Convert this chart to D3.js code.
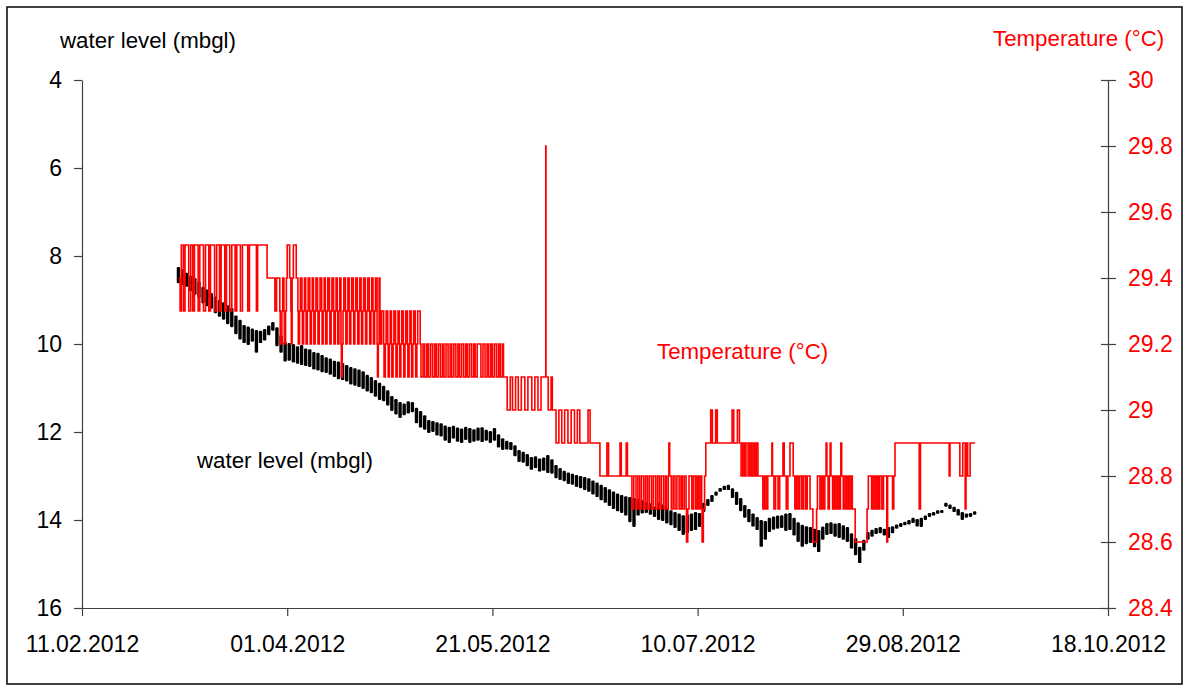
<!DOCTYPE html>
<html><head><meta charset="utf-8">
<script src="https://cdn.jsdelivr.net/npm/d3@7"></script>
<style>
body{margin:0;background:#fff}
svg{display:block}
text{font-family:"Liberation Sans",Arial,sans-serif}
</style>
</head><body>
<svg id="c" width="1186" height="686"></svg>
<script>
// ---------- data ----------
const dateTicks = ["11.02.2012","01.04.2012","21.05.2012","10.07.2012","29.08.2012","18.10.2012"];
const levelTicks = [4,6,8,10,12,14,16];
const tempTicks = [28.4,28.6,28.8,29,29.2,29.4,29.6,29.8,30];

// water level (mbgl): daily shallowest / deepest reading, starting 05.03.2012
const wlStart = "05.03.2012";
const wlTop = [
 8.25,8.30,8.38,8.45,8.50,8.58,8.70,8.76,8.84,8.92,
 9.00,9.05,9.12,9.18,9.35,9.45,9.57,9.60,9.65,9.68,
 9.70,9.66,9.58,9.50,9.62,9.80,9.95,9.98,10.00,10.05,
 10.02,10.10,10.12,10.18,10.20,10.25,10.30,10.33,10.38,10.40,
 10.43,10.48,10.52,10.55,10.58,10.62,10.70,10.75,10.82,10.88,
 10.95,11.05,11.18,11.25,11.32,11.35,11.30,11.32,11.45,11.52,
 11.62,11.73,11.75,11.78,11.80,11.85,11.88,11.86,11.90,11.92,
 11.88,11.91,11.94,11.90,11.89,11.95,11.98,11.91,12.05,12.14,
 12.20,12.23,12.30,12.41,12.45,12.50,12.57,12.55,12.60,12.58,
 12.52,12.62,12.75,12.82,12.88,12.92,12.95,12.98,13.00,13.02,
 13.05,13.10,13.15,13.20,13.25,13.30,13.35,13.40,13.43,13.46,
 13.48,13.50,13.52,13.55,13.59,13.62,13.70,13.61,13.65,13.72,
 13.78,13.82,13.85,13.89,13.88,13.85,13.82,13.84,13.61,13.52,
 13.43,13.35,13.27,13.22,13.20,13.28,13.36,13.50,13.66,13.75,
 13.85,13.93,14.00,14.02,13.95,13.92,13.90,13.89,13.85,13.84,
 13.95,14.05,14.11,14.14,14.16,14.20,14.23,14.15,14.07,14.05,
 14.08,14.07,14.12,14.16,14.30,14.41,14.61,14.45,14.27,14.22,
 14.18,14.16,14.20,14.16,14.14,14.10,14.07,14.04,14.00,13.95,
 13.98,13.95,13.90,13.84,13.82,13.78,13.77,13.61,13.65,13.70,
 13.75,13.82,13.85,13.84,13.80];
const wlBottom = [
 8.62,8.66,8.70,8.80,8.88,8.95,9.08,9.14,9.20,9.30,
 9.38,9.45,9.55,9.62,9.78,9.90,9.98,10.02,9.95,10.20,
 9.98,9.92,9.80,9.70,10.05,10.20,10.40,10.38,10.42,10.45,
 10.48,10.50,10.52,10.58,10.60,10.64,10.66,10.70,10.75,10.80,
 10.82,10.85,10.92,10.95,10.98,11.02,11.08,11.12,11.20,11.27,
 11.30,11.40,11.52,11.60,11.68,11.62,11.58,11.55,11.80,11.90,
 11.95,12.02,12.00,12.08,12.10,12.20,12.25,12.15,12.22,12.25,
 12.18,12.25,12.22,12.20,12.23,12.20,12.25,12.20,12.35,12.41,
 12.40,12.41,12.55,12.68,12.70,12.78,12.86,12.82,12.90,12.88,
 12.93,12.95,13.05,13.09,13.12,13.18,13.20,13.25,13.28,13.32,
 13.36,13.42,13.48,13.55,13.61,13.68,13.75,13.80,13.84,13.90,
 14.05,14.16,13.90,13.85,13.84,13.88,13.93,14.00,14.02,14.08,
 14.12,14.18,14.25,14.34,14.30,14.25,14.23,14.16,13.82,13.68,
 13.59,13.45,13.36,13.32,13.32,13.50,13.66,13.80,13.95,14.05,
 14.15,14.23,14.61,14.45,14.27,14.22,14.20,14.18,14.25,14.23,
 14.35,14.50,14.61,14.55,14.52,14.62,14.73,14.45,14.34,14.32,
 14.38,14.41,14.45,14.50,14.65,14.80,14.98,14.70,14.45,14.38,
 14.32,14.30,14.35,14.41,14.30,14.20,14.16,14.12,14.10,14.07,
 14.15,14.16,14.00,13.93,13.90,13.86,13.84,13.70,13.75,13.82,
 13.90,14.00,13.95,13.93,13.88];

// temperature (°C): [days since 11.02.2012, new reading] – each reading holds until the next one
const tempOrigin = "11.02.2012";
const tempSteps = [
 [23.5,29.4],[23.9,29.3],[24.2,29.5],[24.7,29.3],[25.1,29.5],[26.0,29.3],[26.5,29.5],[27.0,29.3],[27.4,29.5],
 [28.3,29.3],[28.7,29.5],[29.6,29.3],[30.1,29.5],[30.9,29.3],[31.3,29.5],[32.3,29.3],[32.8,29.5],[33.5,29.3],[33.9,29.5],
 [34.8,29.3],[35.2,29.5],[36.0,29.3],[36.5,29.5],[37.3,29.3],[37.7,29.5],[38.6,29.3],[39.1,29.5],[40.4,29.3],[40.8,29.5],
 [42.5,29.3],[42.8,29.5],[45.1,29.4],
 [47.0,29.3],[47.4,29.4],[48.2,29.3],[48.3,29.2],[48.7,29.3],[48.9,29.4],[49.2,29.3],[49.3,29.2],[49.6,29.3],[49.8,29.4],
 [50.0,29.5],[50.6,29.4],[50.9,29.3],[51.0,29.2],[51.2,29.4],[51.5,29.5],[52.2,29.4],
 [52.6,29.3],[52.7,29.2],[53.0,29.3],[53.2,29.4],
 [53.6,29.3],[53.7,29.2],[54.0,29.3],[54.2,29.4],[54.5,29.3],[54.6,29.2],[54.9,29.3],[55.1,29.4],
 [55.5,29.3],[55.6,29.2],[55.9,29.3],[56.1,29.4],[56.4,29.3],[56.5,29.2],[56.8,29.3],[57.0,29.4],
 [57.4,29.3],[57.5,29.2],[57.8,29.3],[58.0,29.4],[58.4,29.3],[58.5,29.2],[58.8,29.3],[59.0,29.4],
 [59.3,29.3],[59.4,29.2],[59.7,29.3],[59.9,29.4],[60.3,29.3],[60.4,29.2],[60.7,29.3],[60.9,29.4],
 [61.3,29.3],[61.4,29.2],[61.7,29.3],[61.9,29.4],[62.2,29.3],[62.3,29.2],[62.6,29.3],[62.8,29.4],
 [63.1,29.2],[63.2,29.1],[63.4,29.2],[63.6,29.3],[63.8,29.4],
 [64.2,29.3],[64.3,29.2],[64.6,29.3],[64.8,29.4],[65.1,29.3],[65.2,29.2],[65.5,29.3],[65.7,29.4],
 [66.1,29.3],[66.2,29.2],[66.5,29.3],[66.7,29.4],[67.1,29.3],[67.2,29.2],[67.5,29.3],[67.7,29.4],
 [68.0,29.3],[68.1,29.2],[68.4,29.3],[68.6,29.4],[69.0,29.3],[69.1,29.2],[69.4,29.3],[69.6,29.4],
 [70.0,29.3],[70.1,29.2],[70.4,29.3],[70.6,29.4],[70.9,29.3],[71.0,29.2],[71.3,29.3],[71.5,29.4],
 [71.9,29.2],[72.0,29.1],[72.2,29.2],[72.4,29.4],[72.6,29.3],[72.7,29.2],[73.0,29.3],
 [73.5,29.2],[73.6,29.1],[73.9,29.2],[74.1,29.3],[74.5,29.2],[74.6,29.1],[74.9,29.2],[75.1,29.3],
 [75.4,29.2],[75.5,29.1],[75.8,29.2],[76.0,29.3],[76.4,29.2],[76.5,29.1],[76.8,29.2],[77.0,29.3],
 [77.3,29.2],[77.4,29.1],[77.7,29.2],[77.9,29.3],[78.3,29.2],[78.4,29.1],[78.7,29.2],[78.9,29.3],
 [79.3,29.2],[79.4,29.1],[79.7,29.2],[79.9,29.3],[80.2,29.2],[80.3,29.1],[80.6,29.2],[80.8,29.3],
 [81.2,29.2],[81.3,29.1],[81.6,29.2],[81.8,29.3],[82.4,29.2],
 [82.6,29.1],[83.1,29.2],[83.5,29.1],[84.0,29.2],[84.4,29.1],[84.9,29.2],[85.4,29.1],[85.9,29.2],
 [86.3,29.1],[86.8,29.2],[87.3,29.1],[87.8,29.2],[88.2,29.1],[88.7,29.2],[89.2,29.1],[89.7,29.2],
 [90.1,29.1],[90.6,29.2],[91.1,29.1],[91.6,29.2],[92.0,29.1],[92.5,29.2],[93.0,29.1],[93.5,29.2],
 [93.9,29.1],[94.4,29.2],[94.9,29.1],[95.4,29.2],[95.8,29.1],[96.3,29.2],[97.2,29.1],[97.7,29.2],
 [98.2,29.1],[98.7,29.2],[99.1,29.1],[99.6,29.2],[100.0,29.1],[100.5,29.2],[101.0,29.1],[101.5,29.2],
 [101.9,29.1],[102.4,29.2],[102.7,29.1],
 [103.6,29.0],[104.35,29.1],[104.9,29.0],[105.65,29.1],[106.3,29.0],[107.05,29.1],[107.9,29.0],[108.65,29.1],
 [109.6,29.0],[110.35,29.1],[111.1,29.0],[111.85,29.1],[113.0,29.8],[113.06,29.1],[113.6,29.0],[114.3,29.1],
 [114.6,29.0],
 [115.5,28.9],[116.2,29.0],[116.9,28.9],[117.6,29.0],[118.4,28.9],[119.2,29.0],[120.0,28.9],[120.7,29.0],
 [121.3,28.9],[123.3,29.0],[123.8,28.9],
 [126.2,28.8],[127.9,28.9],[128.3,28.8],[131.1,28.9],[131.4,28.8],[132.6,28.9],[132.9,28.8],
 [134.0,28.7],[134.45,28.8],[135.0,28.7],[135.45,28.8],[135.9,28.7],[136.35,28.8],[136.9,28.7],[137.35,28.8],
 [137.8,28.7],[138.25,28.8],[138.8,28.7],[139.25,28.8],[139.8,28.7],[140.25,28.8],[140.7,28.7],[141.15,28.8],
 [141.7,28.7],[142.15,28.8],[142.4,28.7],[142.85,28.8],[143.0,28.9],[143.2,28.8],[143.6,28.7],[144.05,28.8],
 [144.5,28.7],[144.95,28.8],[145.5,28.7],[145.95,28.8],[146.3,28.7],[146.75,28.8],
 [147.2,28.7],[147.3,28.6],[147.6,28.7],[147.9,28.8],[148.6,28.7],[149.0,28.8],[149.5,28.7],[149.9,28.8],
 [150.2,28.7],[150.6,28.8],[151.0,28.7],[151.1,28.6],[151.4,28.7],[151.7,28.8],
 [152.0,28.9],[153.2,29.0],[153.6,28.9],[154.4,29.0],[154.8,28.9],
 [158.4,29.0],[158.8,28.9],[159.7,29.0],[160.2,28.9],[160.6,28.8],[161.0,28.9],[161.4,28.8],[161.8,28.9],
 [162.3,28.8],[162.7,28.9],[163.1,28.8],[163.5,28.9],[163.9,28.8],[164.3,28.9],[164.7,28.8],
 [165.9,28.7],[166.3,28.8],[166.7,28.7],[167.1,28.8],[168.1,28.9],[168.25,28.8],[168.6,28.7],[169.0,28.8],
 [169.6,28.7],[170.0,28.8],[170.8,28.9],[171.1,28.8],[171.6,28.7],[172.0,28.8],[172.5,28.9],[173.3,28.8],
 [173.7,28.7],[174.1,28.8],[174.5,28.7],[174.9,28.8],[175.4,28.7],[175.8,28.8],[176.3,28.7],[176.7,28.8],
 [177.4,28.7],[178.1,28.6],[179.0,28.7],[179.2,28.8],
 [179.8,28.7],[180.2,28.8],[180.6,28.7],[181.0,28.8],[181.3,28.9],[181.5,28.8],[181.8,28.7],[182.1,28.8],
 [182.3,28.9],[182.5,28.8],[182.9,28.7],[183.3,28.8],[183.7,28.7],[184.1,28.8],[184.5,28.7],[184.8,28.8],
 [184.9,28.9],[185.1,28.8],[185.5,28.7],[185.9,28.8],[186.3,28.7],[186.7,28.8],[187.1,28.7],[187.5,28.8],
 [187.7,28.7],[188.4,28.6],[191.3,28.7],[191.6,28.8],
 [192.4,28.7],[192.8,28.8],[193.2,28.7],[193.6,28.8],[194.0,28.7],[194.4,28.8],[194.9,28.7],[195.3,28.8],
 [196.1,28.6],[196.3,28.8],[197.5,28.7],[197.8,28.8],[198.1,28.9],
 [204.0,28.7],[204.3,28.9],[211.3,28.8],[211.5,28.9],[213.9,28.8],[214.6,28.9],[215.2,28.7],[215.4,28.9],
 [215.8,28.8],[216.4,28.9],[217.6,28.9]
];

// ---------- drawing ----------
const parse = d3.utcParse("%d.%m.%Y");
const fmt = d3.utcFormat("%d.%m.%Y");
const TICK_FONT = 23;
const TITLE_FONT = 22.3;
const axisColor = "#404040";
const red = "#ff0000";

const x = d3.scaleUtc().domain([parse(dateTicks[0]), parse(dateTicks[dateTicks.length-1])]).range([82,1108]);
const yL = d3.scaleLinear().domain([4,16]).range([80,608]);
const yR = d3.scaleLinear().domain([28.4,30]).range([608,80]);

const svg = d3.select("#c");
svg.append("rect").attr("x",0).attr("y",0).attr("width",1186).attr("height",686).attr("fill","#fff");
svg.append("rect").attr("x",7).attr("y",7).attr("width",1175).attr("height",677)
  .attr("fill","#fff").attr("stroke","#111").attr("stroke-width",1.6);

function styleAxis(g, color){
  g.attr("font-size",TICK_FONT).attr("font-family",'"Liberation Sans",Arial,sans-serif');
  g.selectAll(".domain").attr("stroke",axisColor).attr("stroke-width",1.2);
  g.selectAll(".tick line").attr("stroke",axisColor).attr("stroke-width",1.2);
  g.selectAll(".tick text").attr("fill",color);
}

// bottom axis
const gx = svg.append("g").attr("transform","translate(0,608)")
  .call(d3.axisBottom(x).tickValues(dateTicks.map(parse)).tickFormat(fmt)
     .tickSizeInner(8).tickSizeOuter(0).tickPadding(20));
styleAxis(gx,"#000");

// left axis
const gl = svg.append("g").attr("transform","translate(82,0)")
  .call(d3.axisLeft(yL).tickValues(levelTicks).tickFormat(d3.format("d"))
     .tickSizeInner(8).tickSizeOuter(0).tickPadding(12));
styleAxis(gl,"#000");

// right axis (ticks cross the line)
const gr = svg.append("g").attr("transform","translate(1108,0)")
  .call(d3.axisRight(yR).tickValues(tempTicks).tickFormat(d3.format("~g"))
     .tickSizeInner(8).tickSizeOuter(0).tickPadding(12));
gr.selectAll(".tick line").attr("x1",-7);
styleAxis(gr,red);

// water level bars
const wl0 = parse(wlStart);
svg.append("g").selectAll("rect").data(wlTop).join("rect")
  .attr("x",(d,i)=>x(d3.utcHour.offset(wl0, i*24+12))-1.7)
  .attr("width",3.4)
  .attr("y",d=>yL(d))
  .attr("height",(d,i)=>Math.max(2.5, yL(wlBottom[i])-yL(d)))
  .attr("rx",1.2)
  .attr("fill","#000");

// temperature step line
const t0 = parse(tempOrigin);
const line = d3.line()
  .x(d=>x(new Date(t0.getTime()+d[0]*864e5)))
  .y(d=>yR(d[1]))
  .curve(d3.curveStepAfter);
svg.append("path").datum(tempSteps).attr("d",line)
  .attr("fill","none").attr("stroke",red).attr("stroke-width",1.6);

// titles and labels
function label(txt,xp,yp,color){
  svg.append("text").attr("x",xp).attr("y",yp).attr("font-size",TITLE_FONT)
    .attr("fill",color).text(txt);
}
label("water level (mbgl)",60,48,"#000");
label("Temperature (°C)",993,46,red);
label("Temperature (°C)",657,359,red);
label("water level (mbgl)",197,468,"#000");
</script>
</body></html>
